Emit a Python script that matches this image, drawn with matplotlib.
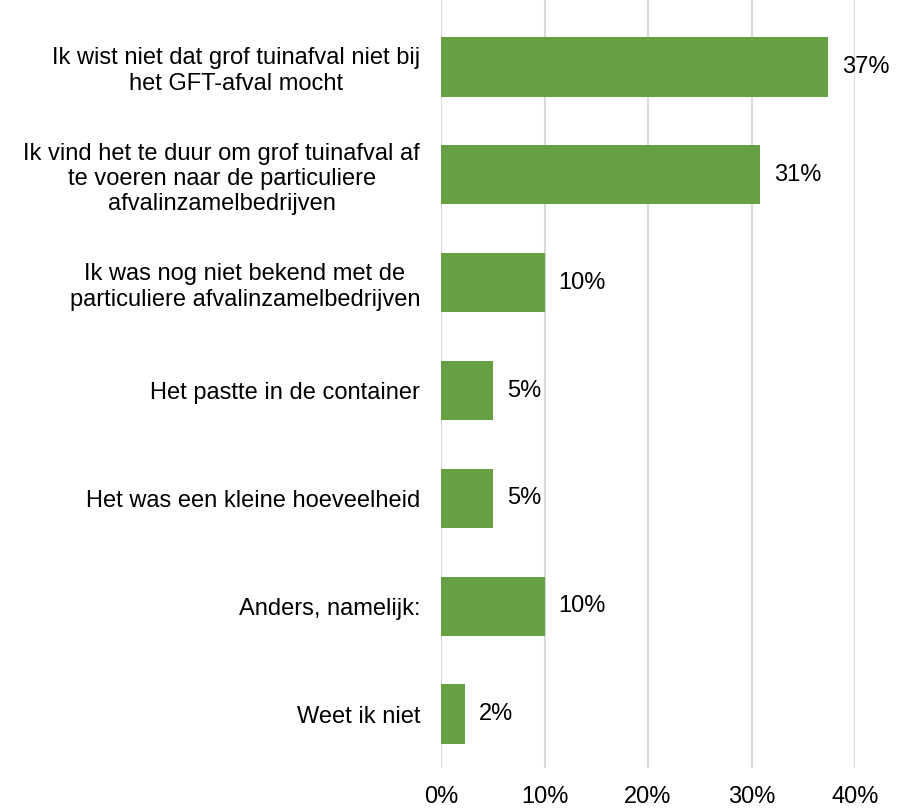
import matplotlib
matplotlib.use("Agg")
import matplotlib.pyplot as plt
import numpy as np

# Survey answers and shares (%)
categories = [
    "Ik wist niet dat grof tuinafval niet bij\nhet GFT-afval mocht",
    "Ik vind het te duur om grof tuinafval af\nte voeren naar de particuliere\nafvalinzamelbedrijven",
    "Ik was nog niet bekend met de\nparticuliere afvalinzamelbedrijven",
    "Het pastte in de container",
    "Het was een kleine hoeveelheid",
    "Anders, namelijk:",
    "Weet ik niet",
]
values = [37.4, 30.8, 10.0, 5.0, 5.0, 10.0, 2.3]
xticks = [0, 10, 20, 30, 40]
xtick_labels = ["0%", "10%", "20%", "30%", "40%"]

plt.rcParams["font.family"] = ["Liberation Sans", "DejaVu Sans"]

fig = plt.figure(figsize=(8.97, 8.08), dpi=100)
ax = fig.add_axes([441 / 897, 40 / 808, 414 / 897, 1 - 40 / 808])

y = np.arange(len(categories))
ax.barh(y, values, height=0.55, color="#66A042", zorder=3)

for yi, v in zip(y, values):
    ax.text(v + 1.35, yi, f"{round(v)}%", va="center", ha="left", fontsize=17, color="#000000", zorder=4)

ax.set_yticks(y)
ax.set_yticklabels(categories, fontsize=17, multialignment="center")
ax.set_xticks(xticks)
ax.set_xticklabels(xtick_labels, fontsize=17)
ax.set_xlim(0, 40)
ax.set_ylim(len(categories) - 0.5, -0.5 - 13 / 107.8)

ax.grid(axis="x", color="#D9D9D9", linewidth=1.5, zorder=0)
ax.tick_params(axis="both", length=0)
ax.tick_params(axis="y", pad=15)
ax.tick_params(axis="x", pad=13)
for s in ax.spines.values():
    s.set_visible(False)

fig.savefig("out.png", dpi=100)
